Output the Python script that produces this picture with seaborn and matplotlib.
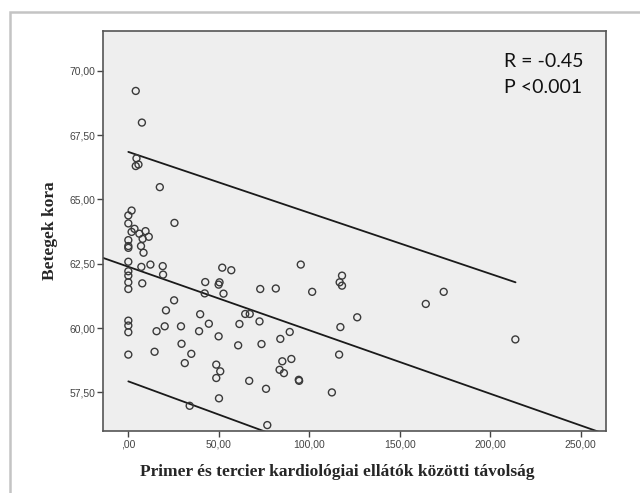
import matplotlib
matplotlib.use("Agg")
import matplotlib.pyplot as plt
from matplotlib.ticker import FuncFormatter
from matplotlib.patches import Rectangle
import pandas as pd
import seaborn as sns

# distance (km) between primary and tertiary cardiology centres
tavolsag = [4.1, 7.5, 4.5, 4.1, 5.6, 17.4, 1.8, 0, 0, 25.5,
            3.4, 1.8, 9.5, 6.1, 11.3, 7.9, 0, 7.0, 0, 0,
            8.4, 0, 7.2, 12.2, 19.0, 19.2, 0, 0, 0, 7.7,
            0, 25.3, 20.8, 0, 0, 0, 0, 20.1, 15.6, 14.5,
            29.1, 29.4, 34.8, 31.2, 33.9, 39.7, 39.1, 44.5, 42.5, 42.2,
            51.9, 56.9, 50.4, 49.9, 52.6, 49.9, 48.6, 50.8, 48.6, 50.1,
            61.4, 60.7, 64.6, 67.1, 72.5, 72.9, 81.5, 73.6, 66.8, 76.1,
            76.8, 95.3, 101.6, 84.0, 89.2, 85.1, 90.1, 83.6, 86.0, 94.2,
            94.4, 112.5, 118.1, 116.8, 118.1, 117.2, 116.5, 126.5, 164.4, 174.3,
            213.9]
# mean patient age
kor = [69.22, 67.99, 66.60, 66.30, 66.36, 65.48, 64.57, 64.38, 64.07, 64.09,
       63.86, 63.74, 63.77, 63.67, 63.55, 63.47, 63.42, 63.19, 63.19, 63.12,
       62.93, 62.58, 62.38, 62.47, 62.41, 62.08, 62.21, 62.04, 61.78, 61.74,
       61.52, 61.08, 60.69, 60.29, 60.10, 59.84, 58.97, 60.07, 59.88, 59.08,
       60.07, 59.39, 59.00, 58.64, 56.98, 60.54, 59.88, 60.17, 61.79, 61.35,
       62.35, 62.25, 61.78, 61.69, 61.34, 59.68, 58.58, 58.32, 58.06, 57.27,
       60.16, 59.33, 60.55, 60.55, 60.26, 61.52, 61.54, 59.38, 57.95, 57.64,
       56.23, 62.47, 61.41, 59.58, 59.85, 58.71, 58.80, 58.38, 58.25, 57.99,
       57.95, 57.50, 62.04, 61.78, 61.65, 60.04, 58.97, 60.42, 60.94, 61.41,
       59.56]

# fitted line and prediction interval
fit_x = [-14, 264]
fit_y = [62.73, 55.87]
band_x = [0, 214]
band_upper = [66.85, 61.78]
band_lower = [57.93, 52.40]

x_ticks = [0, 50, 100, 150, 200, 250]
y_ticks = [57.5, 60, 62.5, 65, 67.5, 70]
stat_text = "R = -0.45\nP <0.001"

df = pd.DataFrame({"tavolsag": tavolsag, "kor": kor})

sns.set_style("white")
fig = plt.figure(figsize=(6.4, 4.93), dpi=100)
fig.patch.set_facecolor("white")
ax = fig.add_axes([103 / 640, 1 - 431 / 493, 503 / 640, 400 / 493])
ax.set_facecolor("#eeeeee")

# outer grey frame
fig.patches.append(Rectangle((10 / 640, -0.1), 1.0, 1 - 11.5 / 493 + 0.1,
                             transform=fig.transFigure, fill=False,
                             edgecolor="#c4c4c4", linewidth=1.8))

sns.lineplot(x=fit_x, y=fit_y, ax=ax, color="#1a1a1a", linewidth=1.3)
sns.lineplot(x=band_x, y=band_upper, ax=ax, color="#1a1a1a", linewidth=1.3)
sns.lineplot(x=band_x, y=band_lower, ax=ax, color="#1a1a1a", linewidth=1.3)
sns.scatterplot(data=df, x="tavolsag", y="kor", ax=ax, marker="o",
                s=25, facecolor="none", edgecolor="#3a3a3a", linewidth=1.0,
                zorder=3)

ax.set_xlim(-14, 264)
ax.set_ylim(56.0, 71.55)
ax.set_xticks(x_ticks)
ax.set_yticks(y_ticks)


def vesszo(v, p):
    s = ("%.2f" % v).replace(".", ",")
    return s.lstrip("0") if v == 0 else s


ax.xaxis.set_major_formatter(FuncFormatter(vesszo))
ax.yaxis.set_major_formatter(FuncFormatter(vesszo))
ax.tick_params(axis="both", direction="out", length=4, width=1, color="#444444",
               labelsize=7.5, labelcolor="#444444", pad=1.5,
               bottom=True, left=True)
ax.tick_params(axis="x", pad=2)
for lab in ax.get_xticklabels() + ax.get_yticklabels():
    lab.set_family("Liberation Sans")
for sp in ax.spines.values():
    sp.set_color("#555555")
    sp.set_linewidth(1.2)

ax.set_xlabel("Primer és tercier kardiológiai ellátók közötti távolság",
              family="Liberation Serif", fontweight="bold", fontsize=12.5)
ax.xaxis.set_label_coords(0.465, -0.083)
ax.set_ylabel("Betegek kora", family="Liberation Serif", fontweight="bold",
              fontsize=12.5, labelpad=8)

ax.text(0.797, 0.946, stat_text, transform=ax.transAxes, ha="left", va="top",
        family="Lato", fontsize=14, color="#111111", linespacing=1.7)

fig.savefig("out.png", dpi=100)
